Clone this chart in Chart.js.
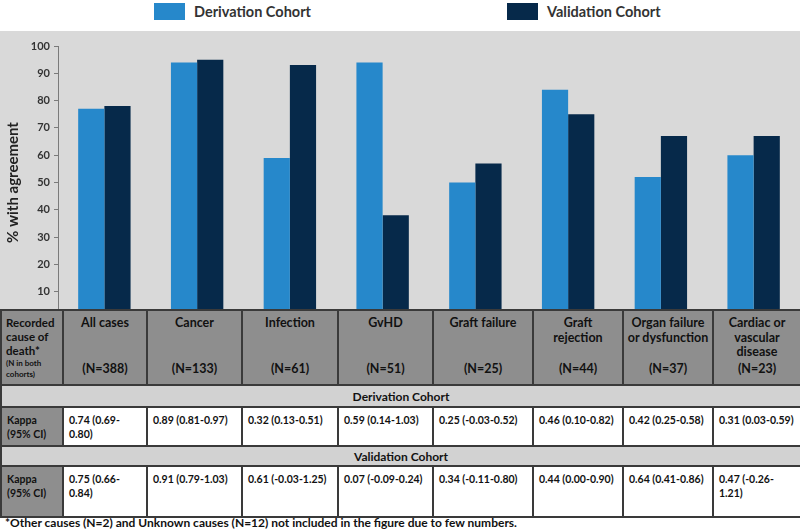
<!DOCTYPE html>
<html>
<head>
<meta charset="utf-8">
<script src="https://cdn.jsdelivr.net/npm/chart.js@4.4.0/dist/chart.umd.min.js"></script>
<style>
  body { margin: 0; background: #fff; font-family: Lato, "Open Sans", sans-serif; }
  #pagina { position: relative; width: 800px; height: 532px; overflow: hidden; background: #fff; }
  .item-legenda { position: absolute; top: 2px; height: 18px; display: flex; align-items: center; font-weight: bold; font-size: 14.5px; color: #333; white-space: nowrap; }
  .item-legenda .caixa { width: 31px; height: 17px; margin-right: 9px; }
  #area-grafico { position: absolute; top: 31px; left: 0; width: 800px; height: 300px; background: #d9d9d9; }
  #tabela { position: absolute; top: 309px; left: 0; width: 800px; border-collapse: collapse; table-layout: fixed; z-index: 2; background: #fff; color: #111; }
  #tabela td { border: 2px solid #3a3a3a; padding: 0; font-weight: bold; vertical-align: top; }
  #tabela .cinza { background: #8e8e8e; }
  #tabela .cab { position: relative; height: 73px; text-align: center; font-size: 12.5px; line-height: 14.5px; }
  #tabela .cab .rot { padding-top: 5px; }
  #tabela .cab .n { position: absolute; left: 0; right: 0; bottom: 8px; }
  #tabela .primeira { text-align: left; padding-left: 4px; font-size: 11.5px; line-height: 14px; padding-top: 5px; }
  #tabela .primeira small { font-size: 8px; line-height: 11px; display: block; }
  #tabela .secao td { background: #d2d2d2; text-align: center; font-size: 12px; vertical-align: middle; }
  #tabela .kappa td { font-size: 10.5px; line-height: 14px; padding: 5px 5px 0 5px; }
  #nota { position: absolute; top: 515px; left: 5px; font-size: 12px; font-weight: bold; color: #111; white-space: nowrap; }
</style>
</head>
<body>
<div id="pagina">
  <div id="legenda"></div>
  <div id="area-grafico"><canvas id="grafico"></canvas></div>
  <table id="tabela"></table>
  <div id="nota"></div>
</div>
<script>
const categorias = ["All cases", "Cancer", "Infection", "GvHD", "Graft failure", "Graft rejection", "Organ failure or dysfunction", "Cardiac or vascular disease"];
const linhasCabecalho = [["All cases"], ["Cancer"], ["Infection"], ["GvHD"], ["Graft failure"], ["Graft", "rejection"], ["Organ failure", "or dysfunction"], ["Cardiac or", "vascular", "disease"]];
const totaisN = ["(N=388)", "(N=133)", "(N=61)", "(N=51)", "(N=25)", "(N=44)", "(N=37)", "(N=23)"];
const valoresDerivacao = [77, 94, 59, 94, 50, 84, 52, 60];
const valoresValidacao = [78, 95, 93, 38, 57, 75, 67, 67];
const kappaDerivacao = ["0.74 (0.69-0.80)", "0.89 (0.81-0.97)", "0.32 (0.13-0.51)", "0.59 (0.14-1.03)", "0.25 (-0.03-0.52)", "0.46 (0.10-0.82)", "0.42 (0.25-0.58)", "0.31 (0.03-0.59)"];
const kappaValidacao = ["0.75 (0.66-0.84)", "0.91 (0.79-1.03)", "0.61 (-0.03-1.25)", "0.07 (-0.09-0.24)", "0.34 (-0.11-0.80)", "0.44 (0.00-0.90)", "0.64 (0.41-0.86)", "0.47 (-0.26-1.21)"];
const nomesSeries = ["Derivation Cohort", "Validation Cohort"];
const coresSeries = ["#2688cb", "#06294a"];
const tituloEixoY = "% with agreement";
const notaRodape = "*Other causes (N=2) and Unknown causes (N=12) not included in the figure due to few numbers.";

const posicoesLegenda = [154, 507];
const largurasColunas = [62, 84, 95, 96, 95, 100, 90, 90, 88];

function montarLegenda() {
  const legenda = document.getElementById("legenda");
  legenda.innerHTML = nomesSeries.map((nome, i) =>
    `<div class="item-legenda" style="left:${posicoesLegenda[i]}px"><span class="caixa" style="background:${coresSeries[i]}"></span>${nome}</div>`
  ).join("");
}

function montarTabela() {
  let html = "<colgroup>" + largurasColunas.map(w => `<col style="width:${w}px">`).join("") + "</colgroup>";

  html += '<tr><td class="cinza primeira">Recorded<br>cause of<br>death*<small>(N in both<br>cohorts)</small></td>';
  linhasCabecalho.forEach((linhas, i) => {
    html += `<td class="cinza"><div class="cab"><div class="rot">${linhas.join("<br>")}</div><div class="n">${totaisN[i]}</div></div></td>`;
  });
  html += "</tr>";

  html += `<tr class="secao" style="height:22px"><td colspan="9">${nomesSeries[0]}</td></tr>`;
  html += '<tr class="kappa" style="height:39px"><td class="cinza">Kappa<br>(95% CI)</td>';
  kappaDerivacao.forEach(k => { html += `<td>${k}</td>`; });
  html += "</tr>";

  html += `<tr class="secao" style="height:20px"><td colspan="9">${nomesSeries[1]}</td></tr>`;
  html += '<tr class="kappa" style="height:51px"><td class="cinza">Kappa<br>(95% CI)</td>';
  kappaValidacao.forEach(k => { html += `<td>${k}</td>`; });
  html += "</tr>";

  document.getElementById("tabela").innerHTML = html;
  document.getElementById("nota").textContent = notaRodape;
}

function renderizarGrafico() {
  const ctx = document.getElementById("grafico").getContext("2d");

  new Chart(ctx, {
    type: "bar",
    data: {
      labels: categorias,
      datasets: [
        { label: nomesSeries[0], data: valoresDerivacao, backgroundColor: coresSeries[0] },
        { label: nomesSeries[1], data: valoresValidacao, backgroundColor: coresSeries[1] }
      ]
    },
    options: {
      responsive: true,
      maintainAspectRatio: false,
      animation: false,
      categoryPercentage: 0.565,
      barPercentage: 1,
      layout: { padding: { top: 15, bottom: 12, left: 0, right: 0 } },
      scales: {
        x: { display: false },
        y: {
          min: 0,
          max: 100,
          afterFit: scale => { scale.width = 58; },
          border: { display: true, color: "#7a7a7a", width: 1 },
          grid: { display: true, drawOnChartArea: false, drawTicks: true, tickLength: 4, color: "#7a7a7a" },
          ticks: {
            stepSize: 10,
            padding: 4,
            color: "#333",
            font: { family: "Lato", size: 11, weight: "bold" }
          },
          title: {
            display: true,
            text: tituloEixoY,
            color: "#222",
            padding: { top: 4, bottom: 0 },
            font: { family: "Lato", size: 15, weight: "bold" }
          }
        }
      },
      plugins: {
        legend: { display: false },
        tooltip: { enabled: false }
      }
    }
  });
}

montarLegenda();
montarTabela();
renderizarGrafico();
</script>
</body>
</html>
